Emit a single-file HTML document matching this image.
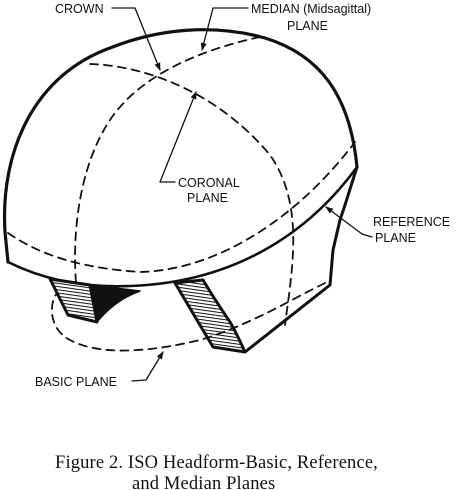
<!DOCTYPE html>
<html><head><meta charset="utf-8"><style>
html,body{margin:0;padding:0;background:#fff;}
svg{display:block;}
.lbl{font-family:"Liberation Sans",sans-serif;font-size:12.5px;fill:#111;}
.cap{font-family:"Liberation Serif",serif;font-size:18.5px;letter-spacing:0.15px;fill:#111;}
</style></head><body>
<svg width="465" height="490" viewBox="0 0 465 490">
<defs>
<pattern id="hatch" width="4" height="3.2" patternUnits="userSpaceOnUse" patternTransform="rotate(8)">
<rect width="4" height="3.2" fill="#fff"/><line x1="0" y1="0.5" x2="4" y2="0.5" stroke="#111" stroke-width="1"/>
</pattern>
<marker id="arr" markerWidth="8" markerHeight="8" refX="7" refY="4" orient="auto" markerUnits="userSpaceOnUse">
<path d="M0,1 L8,4 L0,7 Z" fill="#111"/></marker>
</defs>
<g fill="none" stroke="#111" stroke-linecap="round" stroke-linejoin="round">
<path d="M50,279 L68,315 L97,322 L90,285 Z" fill="url(#hatch)" stroke-width="3"/>
<path d="M90,285 L97,322 Q115,300 140,291 Q115,288 90,285 Z" fill="#111" stroke-width="1.5"/>
<path d="M175,283 L213,347 L245,352 Q235,330 230,322 Q215,300 203,280 Z" fill="url(#hatch)" stroke-width="3"/>
<path d="M245,352 L330,285 L333,250 L340,220" stroke-width="3"/>
<path d="M8,262 L5,232 C0,150 35,75 110,48 C160,28 215,24 265,38 C320,55 350,95 357,167" stroke-width="3.2"/>
<path d="M357,167 L345,205 L340,220" stroke-width="3"/>
<path d="M8,262 C40,278 80,288 130,286 C220,283 300,245 357,167" stroke-width="2.6"/>
<g stroke-dasharray="8,6" stroke-width="1.8">
<path d="M260,37 C200,50 140,75 110,120 C80,165 72,230 76,283"/>
<path d="M90,64 C150,66 220,95 270,155 C305,205 292,270 285,325"/>
<path d="M8,233 C40,255 80,268 140,272 C220,270 300,215 355,142"/>
<path d="M325,283 C290,300 250,325 200,340 C150,352 100,356 70,340 C50,330 48,305 57,293"/>
</g>
<g stroke-width="1.3">
<path d="M112,8 L135,8 L160,70" marker-end="url(#arr)"/>
<path d="M248,8 L213,8 L202,50" marker-end="url(#arr)"/>
<path d="M175,182 L160,182 L196,92" marker-end="url(#arr)"/>
<path d="M372,237 L362,234 L326,207" marker-end="url(#arr)"/>
<path d="M132,381 L146,380 L163,352" marker-end="url(#arr)"/>
</g>
</g>
<text class="lbl" x="55" y="13">CROWN</text>
<text class="lbl" x="251" y="13">MEDIAN (Midsagittal)</text>
<text class="lbl" x="287" y="30">PLANE</text>
<text class="lbl" x="178" y="187">CORONAL</text>
<text class="lbl" x="187" y="202">PLANE</text>
<text class="lbl" x="373" y="226">REFERENCE</text>
<text class="lbl" x="375" y="242">PLANE</text>
<text class="lbl" x="35" y="386">BASIC PLANE</text>
<text class="cap" x="55" y="468">Figure 2.  ISO Headform-Basic, Reference,</text>
<text class="cap" x="132" y="489">and Median Planes</text>
</svg>
</body></html>
